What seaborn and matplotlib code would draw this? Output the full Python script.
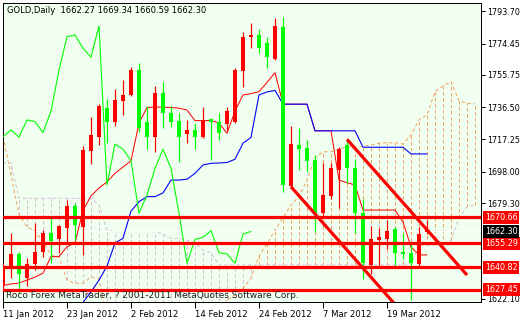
import numpy as np
import pandas as pd
import seaborn as sns
import matplotlib
matplotlib.use("Agg")
import matplotlib.pyplot as plt
import matplotlib.transforms as mtransforms

# ---------------- data ----------------
opens = [1630.4, 1640.5, 1648.9, 1634.4, 1642.9, 1649.9, 1661.6, 1657.6, 1664.2, 1677.5,
         1665.2, 1710.5, 1718.9, 1735.9, 1727.9, 1740.4, 1743.8, 1758.7, 1727.9, 1718.9,
         1744.8, 1732.9, 1728.5, 1720.5, 1722.9, 1718.6, 1729.3, 1727.9, 1726.5, 1727.9,
         1758.3, 1778.2, 1779.6, 1774.7, 1765.1, 1784.6, 1689.6, 1713.9, 1712.0, 1705.0,
         1673.5, 1683.5, 1699.0, 1713.9, 1700.0, 1673.2, 1642.3, 1657.2, 1658.0, 1663.6,
         1649.9, 1649.3, 1642.9, 1662.27]
highs = [1643.5, 1661.6, 1650.2, 1646.5, 1667.6, 1663.2, 1670.2, 1666.2, 1681.1, 1679.5,
         1713.5, 1730.5, 1738.4, 1741.2, 1747.2, 1752.7, 1760.7, 1763.1, 1737.2, 1749.2,
         1751.7, 1737.0, 1732.9, 1728.9, 1727.3, 1736.4, 1729.5, 1733.2, 1736.4, 1759.7,
         1781.6, 1786.9, 1783.0, 1778.6, 1789.6, 1790.5, 1725.3, 1723.9, 1716.9, 1708.0,
         1703.0, 1703.0, 1712.7, 1716.9, 1705.4, 1681.5, 1665.6, 1664.2, 1669.2, 1665.2,
         1661.6, 1655.6, 1665.2, 1669.34]
lows = [1627.5, 1634.5, 1625.6, 1629.8, 1639.3, 1647.3, 1643.3, 1649.3, 1656.2, 1657.2,
        1648.3, 1702.6, 1713.9, 1715.3, 1725.3, 1731.9, 1743.0, 1721.9, 1711.4, 1709.9,
        1723.9, 1724.9, 1704.0, 1714.9, 1711.4, 1717.9, 1705.0, 1716.9, 1722.9, 1727.0,
        1748.3, 1771.7, 1768.7, 1759.9, 1764.5, 1686.1, 1688.9, 1699.0, 1698.0, 1662.2,
        1671.1, 1681.5, 1676.1, 1691.4, 1661.2, 1633.8, 1636.9, 1642.3, 1651.7, 1641.3,
        1645.7, 1621.4, 1641.3, 1660.59]
closes = [1641.1, 1648.9, 1636.9, 1642.9, 1649.9, 1661.6, 1656.8, 1665.6, 1677.5, 1666.2,
          1711.0, 1719.9, 1737.2, 1727.9, 1740.8, 1743.8, 1758.7, 1723.9, 1718.9, 1744.8,
          1732.9, 1727.9, 1718.9, 1722.9, 1718.6, 1728.9, 1727.9, 1721.3, 1734.2, 1758.7,
          1778.6, 1779.6, 1771.7, 1766.3, 1785.0, 1690.1, 1714.5, 1711.4, 1704.6, 1673.2,
          1684.1, 1700.0, 1711.4, 1700.0, 1673.2, 1643.3, 1657.6, 1658.8, 1662.8, 1649.6,
          1648.9, 1643.3, 1660.8, 1662.30]

tenkan = [1630.0, 1631.0, 1631.5, 1633.3, 1635.1, 1637.4, 1647.3, 1647.3, 1653.2, 1655.4,
          1674.9, 1683.5, 1688.3, 1691.9, 1697.0, 1700.8, 1704.4, 1727.0, 1736.3, 1736.6,
          1736.5, 1736.3, 1735.9, 1734.8, 1728.5, 1728.5, 1728.5, 1727.1, 1720.9, 1734.2,
          1743.8, 1744.6, 1745.8, 1751.3, 1757.1, 1738.4, 1738.3, 1738.3, 1738.3, 1722.4,
          1722.4, 1722.4, 1693.0, 1691.4, 1690.1, 1675.1, 1675.1, 1675.1, 1675.1, 1675.1,
          1668.0, 1653.0, 1648.3, 1648.3]
kijun_start = 9
kijun = [1610.0, 1620.0, 1626.2, 1633.3, 1641.7, 1655.4, 1658.2, 1674.5, 1680.1, 1683.1,
         1683.1, 1685.3, 1693.0, 1693.0, 1693.5, 1697.0, 1702.0, 1703.0, 1703.2, 1703.5,
         1705.4, 1715.0, 1718.5, 1743.8, 1745.6, 1746.5, 1738.3, 1738.3, 1738.3, 1738.3,
         1722.4, 1722.4, 1722.4, 1722.4, 1722.4, 1722.4, 1712.6, 1712.6, 1712.6, 1712.6,
         1712.6, 1712.6, 1708.6, 1708.6, 1708.6]
chikou_shift = 22

span_a = [1718.9, 1696.0, 1672.2, 1665.0, 1662.6, 1656.0, 1648.3, 1647.1, 1633.3, 1631.4,
          1631.4, 1635.1, 1634.0, 1610.0, 1600.0, 1600.0, 1600.0, 1600.0, 1600.0, 1600.0,
          1600.0, 1600.0, 1600.0, 1600.0, 1600.0, 1600.0, 1600.0, 1610.0, 1621.4, 1624.4,
          1628.0, 1634.5, 1647.7, 1654.8, 1663.2, 1670.4, 1678.1, 1683.3, 1693.0, 1706.2,
          1709.9, 1709.9, 1711.5, 1712.7, 1712.7, 1713.0, 1713.9, 1714.9, 1715.3, 1715.3,
          1714.5, 1719.9, 1728.9, 1731.9, 1745.6, 1749.2, 1751.8, 1740.3, 1738.8, 1738.5]
span_b = [1703.2, 1703.2, 1682.1, 1682.1, 1682.1, 1682.1, 1682.1, 1682.1, 1682.1, 1682.1,
          1682.1, 1682.1, 1678.1, 1663.2, 1662.2, 1662.2, 1662.2, 1662.2, 1662.2, 1662.2,
          1660.8, 1658.2, 1658.2, 1657.2, 1655.4, 1651.3, 1649.5, 1642.3, 1642.3, 1642.3,
          1642.3, 1642.3, 1642.3, 1642.3, 1642.3, 1642.3, 1642.3, 1642.3, 1642.3, 1642.3,
          1642.3, 1642.3, 1642.3, 1642.3, 1642.3, 1642.3, 1642.3, 1642.3, 1642.3, 1642.3,
          1642.3, 1642.3, 1654.2, 1654.2, 1654.2, 1654.2, 1657.2, 1670.4, 1676.9, 1678.1]

levels = [1670.66, 1655.29, 1640.82, 1627.45]
bid = 1662.30
channel_lower = ([36, 52], [1689.0, 1602.6])
channel_upper = ([43, 58], [1717.3, 1636.3])

ytick_vals = [1793.70, 1774.45, 1755.75, 1736.50, 1717.25, 1698.00, 1679.30, 1622.10]
xtick_pos = [0, 8, 16, 24, 32, 40, 48]
xtick_labels = ["11 Jan 2012", "23 Jan 2012", "2 Feb 2012", "14 Feb 2012",
                "24 Feb 2012", "7 Mar 2012", "19 Mar 2012"]
title_text = "GOLD,Daily  1662.27 1669.34 1660.59 1662.30"
footer_text = "Roco Forex MetaTrader, ? 2001-2011 MetaQuotes Software Corp."

# ---------------- styling ----------------
sns.set_theme(style="white")
plt.rcParams["font.family"] = ["DejaVu Sans"]

RED = "#FF0000"
LIME = "#00FF00"
BLUE = "#0000FF"
SANDY = "#F4A460"
THISTLE = "#D8BFD8"
BG = "#F0FFF0"
PX = 0.72  # one pixel in points at dpi 100

W, H = 520, 320
fig = plt.figure(figsize=(W / 100, H / 100), dpi=100)
fig.patch.set_facecolor("white")
ax = fig.add_axes([3 / W, (H - 302) / H, 478 / W, 299 / H])
ax.set_facecolor(BG)
ax.set_xlim(0, 59.75)
ax.set_ylim(1620.2, 1798.7)

n_cloud = len(span_a)
xc = np.arange(n_cloud)
a = np.array(span_a)
b = np.array(span_b)
dash = (0, (3.5, 2.5))

# cloud verticals
for i in range(n_cloud):
    col = SANDY if a[i] >= b[i] else THISTLE
    ax.vlines(i, min(a[i], b[i]), max(a[i], b[i]), colors=col, linewidth=PX,
              linestyles=dash, zorder=1)

cloud_df = pd.DataFrame({"x": xc, "a": a, "b": b})
sns.lineplot(data=cloud_df, x="x", y="a", ax=ax, color=SANDY, linewidth=PX, zorder=2)
sns.lineplot(data=cloud_df, x="x", y="b", ax=ax, color=THISTLE, linewidth=PX, zorder=2)
for ln in ax.lines:
    ln.set_linestyle(dash)

# bid line
ax.axhline(bid, color="white", linewidth=PX, zorder=2.5)

# ichimoku lines
n = len(closes)
ten_df = pd.DataFrame({"x": np.arange(n), "y": tenkan})
kij_df = pd.DataFrame({"x": np.arange(kijun_start, kijun_start + len(kijun)), "y": kijun})
chk_vals = closes[chikou_shift:]
chk_df = pd.DataFrame({"x": np.arange(len(chk_vals)), "y": chk_vals})
sns.lineplot(data=ten_df, x="x", y="y", ax=ax, color=RED, linewidth=PX, zorder=3)
sns.lineplot(data=kij_df, x="x", y="y", ax=ax, color=BLUE, linewidth=PX * 1.1, zorder=3)
sns.lineplot(data=chk_df, x="x", y="y", ax=ax, color=LIME, linewidth=PX * 1.1, zorder=3)

# candles (red = bullish, lime = bearish)
o = np.array(opens); c = np.array(closes); h = np.array(highs); l = np.array(lows)
xs = np.arange(n)
cols = [RED if c[i] >= o[i] else LIME for i in range(n)]
ax.vlines(xs, l, h, colors=cols, linewidth=PX * 1.2, zorder=4)
body_bottom = np.minimum(o, c)
body_h = np.maximum(np.abs(c - o), 0.7)
ax.bar(xs, body_h, bottom=body_bottom, width=0.62, color=cols, linewidth=0, zorder=5)

# horizontal levels and channel
for lv in levels:
    ax.axhline(lv, color=RED, linewidth=2.3, zorder=6)
ax.plot(*channel_lower, color=RED, linewidth=2.3, zorder=6, solid_capstyle="butt")
ax.plot(*channel_upper, color=RED, linewidth=2.3, zorder=6, solid_capstyle="butt")

# axes / ticks
for sp in ax.spines.values():
    sp.set_color("black")
    sp.set_linewidth(PX)
ax.yaxis.tick_right()
ax.set_yticks(ytick_vals)
ax.set_yticklabels([f"{v:.2f}" for v in ytick_vals])
ax.set_xticks(xtick_pos)
ax.set_xticklabels(xtick_labels, ha="left")
ax.tick_params(axis="y", which="both", right=True, left=False, length=3, width=PX,
               color="black", labelsize=5.8, pad=1.2, labelcolor="black")
ax.tick_params(axis="x", which="both", bottom=True, length=4, width=PX,
               color="black", labelsize=6.1, pad=1.5, labelcolor="black")
ax.set_xlabel("")
ax.set_ylabel("")
if ax.get_legend():
    ax.get_legend().remove()

# price boxes on the right
tr = mtransforms.blended_transform_factory(ax.transAxes, ax.transData)
for lv in levels:
    ax.text(1.008, lv, f"{lv:.2f}", transform=tr, fontsize=5.8, color="white",
            va="center", ha="left", clip_on=False, zorder=10,
            bbox=dict(boxstyle="square,pad=0.25", fc=RED, ec="none"))
ax.text(1.008, bid, f"{bid:.2f}", transform=tr, fontsize=5.8, color="white",
        va="center", ha="left", clip_on=False, zorder=10,
        bbox=dict(boxstyle="square,pad=0.25", fc="black", ec="none"))

# texts
fig.text(7 / W, 1 - 10.5 / H, title_text, fontsize=6.0, color="black",
         ha="left", va="center")
fig.text(6 / W, 1 - 295.5 / H, footer_text, fontsize=6.45, color="#202020",
         ha="left", va="center")

fig.savefig("out.png", dpi=100, facecolor="white")
